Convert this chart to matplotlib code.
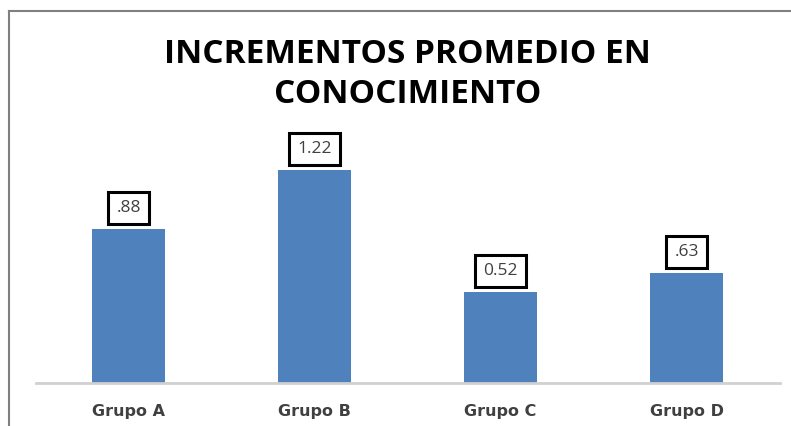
import matplotlib
matplotlib.use("Agg")
import matplotlib.pyplot as plt
from matplotlib.lines import Line2D

categories = ["Grupo A", "Grupo B", "Grupo C", "Grupo D"]
values = [0.88, 1.22, 0.52, 0.63]
value_labels = [".88", "1.22", "0.52", ".63"]
title = "INCREMENTOS PROMEDIO EN\nCONOCIMIENTO"

fig = plt.figure(figsize=(7.91, 4.26), dpi=100)
ax = fig.add_axes([0.0449, 0.1009, 0.9406, 0.575])

x = list(range(len(categories)))
ax.bar(x, values, width=0.39, color="#4F81BD", zorder=2)
ax.set_xlim(-0.5, len(categories) - 0.5)
ax.set_ylim(0, 1.4)

for xi, v, lab in zip(x, values, value_labels):
    ax.annotate(lab, (xi, v), xytext=(0, 15), textcoords="offset points",
                ha="center", va="center", fontsize=12.5, color="#404040",
                family="Open Sans", fontweight="normal",
                bbox=dict(boxstyle="square,pad=0.45", fc="white", ec="black", lw=2.2))

for s in ["top", "right", "left"]:
    ax.spines[s].set_visible(False)
ax.spines["bottom"].set_color("#D0D0D0")
ax.spines["bottom"].set_linewidth(2)
ax.set_yticks([])
ax.set_xticks(x)
ax.set_xticklabels(categories, fontsize=11.5, fontweight="bold", color="#404040",
                   family="DejaVu Sans")
ax.tick_params(axis="x", length=0, pad=15)

fig.text(0.515, 0.825, title, ha="center", va="center", fontsize=24,
         fontweight="bold", fontstretch="normal", color="black",
         family="Open Sans", linespacing=1.3)

# chart area border (top and left edges)
fig.add_artist(Line2D([0.012, 1.0], [0.975, 0.975], color="#808080", lw=1.5,
                      transform=fig.transFigure))
fig.add_artist(Line2D([0.012, 0.012], [0.0, 0.975], color="#808080", lw=1.5,
                      transform=fig.transFigure))

fig.savefig("out.png", dpi=100)
